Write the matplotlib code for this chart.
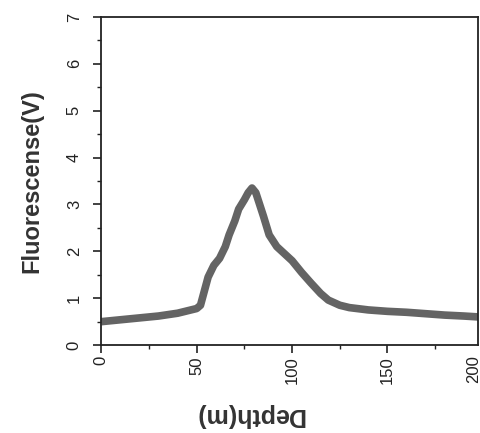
import numpy as np
import matplotlib
matplotlib.use("Agg")
import matplotlib.pyplot as plt
from matplotlib.ticker import MultipleLocator

# profile
depth = [0, 5, 10, 20, 30, 40, 46, 50, 52, 54, 56, 59, 62, 65, 67, 70, 72, 75,
         77, 79, 81, 83, 85, 88, 92, 96, 100, 105, 110, 115, 119, 125, 130,
         140, 150, 160, 170, 180, 190, 198]
fluor = [0.50, 0.52, 0.54, 0.58, 0.62, 0.68, 0.74, 0.78, 0.85, 1.15, 1.45, 1.70,
         1.85, 2.10, 2.35, 2.65, 2.90, 3.10, 3.25, 3.35, 3.25, 3.00, 2.75, 2.35,
         2.10, 1.95, 1.80, 1.55, 1.32, 1.10, 0.96, 0.85, 0.80, 0.75, 0.72,
         0.70, 0.67, 0.64, 0.62, 0.60]

plt.rcParams['font.family'] = ['Liberation Sans', 'DejaVu Sans']

fig = plt.figure(figsize=(4.8, 4.33), dpi=100)
ax = fig.add_axes([0.211, 0.203, 0.785, 0.758])
ax.plot(depth, fluor, color='#646464', lw=5.5, solid_capstyle='butt')

ax.set_xlim(0, 197.5)
ax.set_ylim(0, 7)
ax.xaxis.set_major_locator(MultipleLocator(50))
ax.xaxis.set_minor_locator(MultipleLocator(25))
ax.yaxis.set_major_locator(MultipleLocator(1))
ax.yaxis.set_minor_locator(MultipleLocator(0.5))
ax.tick_params(which='major', direction='out', length=6, width=1.2, labelsize=12, colors='#222')
ax.tick_params(axis='y', which='major', pad=8)
ax.tick_params(axis='x', which='major', pad=2)
ax.tick_params(which='minor', direction='out', length=3, width=1.0, colors='#222')
for lab in ax.get_xticklabels() + ax.get_yticklabels():
    lab.set_rotation(90)
    lab.set_va('center')
for lab in ax.get_yticklabels():
    lab.set_ha('right')
for lab in ax.get_xticklabels():
    lab.set_va('top')
for s in ax.spines.values():
    s.set_linewidth(1.3)
    s.set_color('#222')

# 200 sits right at the frame edge
ax.text(195, -0.22, '200', rotation=90, ha='center', va='top', fontsize=12,
        color='#222', clip_on=False)

ax.set_ylabel('Fluorescense(V)', fontsize=17, fontweight='bold', color='#333', va='center')
ax.yaxis.set_label_coords(-0.183, 0.5)
ax.set_xlabel('Depth(m)', fontsize=18, fontweight='bold', color='#333', rotation=180, va='center')
ax.xaxis.set_label_coords(0.393, -0.213)

plt.savefig('out.png', dpi=100)
